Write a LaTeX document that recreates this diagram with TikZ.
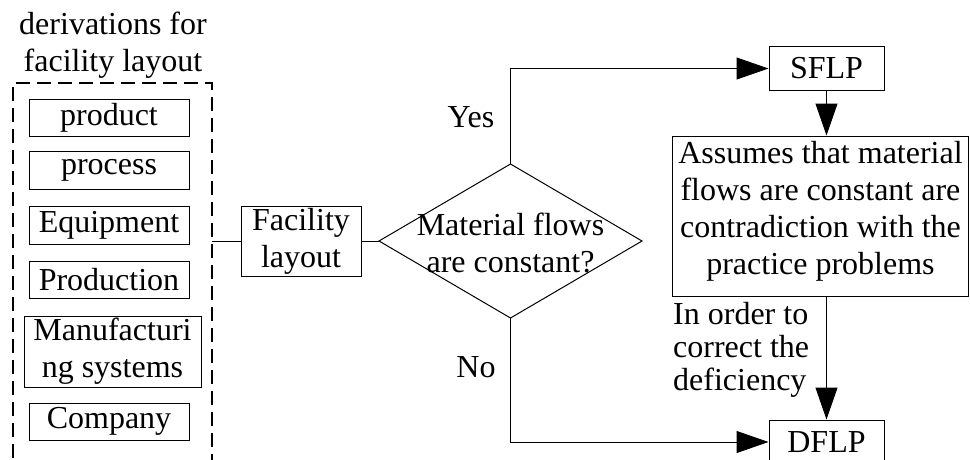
\documentclass[tikz,border=0pt]{standalone}
\usepackage{fontspec}
\setmainfont{Liberation Serif}
\usetikzlibrary{arrows.meta}
\begin{document}
\begin{tikzpicture}[x=1pt,y=-1pt,
  every node/.style={font=\fontsize{32}{37}\selectfont, inner sep=0pt},
  box/.style={draw, line width=1pt, align=center},
  link/.style={line width=1pt},
  arrowlink/.style={line width=1pt, -{Triangle[length=32pt,width=22pt]}},
  groupframe/.style={line width=2pt, dash pattern=on 14pt off 7pt}]
\useasboundingbox (0,0) rectangle (970,459);
\clip (0,0) rectangle (970,459);

% group of derivations
\node[align=center] (title) at (113,45) {derivations for\\facility layout};
\draw[groupframe] (13,500) -- (13,83) -- (212,83) -- (212,500);
\coordinate (groupout) at (212,241);

\node[box, minimum width=160, minimum height=37] (product) at (109,117.5) {product};
\node[box, minimum width=160, minimum height=38] (process) at (109,170) {process};
\node[box, minimum width=160, minimum height=38] (equip) at (109,225) {Equipment};
\node[box, minimum width=160, minimum height=37] (production) at (109,279.5) {Production};
\node[box, minimum width=177, minimum height=71] (manuf) at (112.5,351.5) {Manufacturi\\ng systems};
\node[box, minimum width=160, minimum height=37] (company) at (109,421.5) {Company};

% main flow
\node[box, minimum width=120, minimum height=70] (facility) at (301,241) {Facility\\layout};

\coordinate (dleft) at (379,241);
\coordinate (dright) at (642,241);
\coordinate (dtop) at (510.5,164);
\coordinate (dbottom) at (510.5,318);
\draw[line width=1pt] (dleft) -- (dtop) -- (dright) -- (dbottom) -- cycle;
\node[align=center] (question) at (510.5,243) {Material flows\\are constant?};

\node[box, minimum width=115, minimum height=44] (sflp) at (826.5,68.5) {SFLP};
\node[box, minimum width=296, minimum height=160] (assume) at (820.5,216) {};
\node[align=center] (assumetext) at (820.5,211)
  {Assumes that material\\flows are constant are\\contradiction with the\\practice problems};
\node[box, minimum width=115, minimum height=44] (dflp) at (826.5,442) {DFLP};

% connectors
\draw[link] (groupout) -- (facility.west);
\draw[link] (facility.east) -- (dleft);
\draw[arrowlink] (dtop) |- (sflp.west);
\draw[arrowlink] (dbottom) |- (dflp.west);
\draw[arrowlink] (sflp.south) -- (sflp.south |- assume.north);
\draw[arrowlink] (dflp.north |- assume.south) -- (dflp.north);

% labels
\node (yes) at (471,117) {Yes};
\node (no) at (476,367) {No};
\node[align=left, anchor=west, font=\fontsize{32}{33}\selectfont] (reason) at (673,350)
  {In order to\\correct the\\deficiency};
\end{tikzpicture}
\end{document}
